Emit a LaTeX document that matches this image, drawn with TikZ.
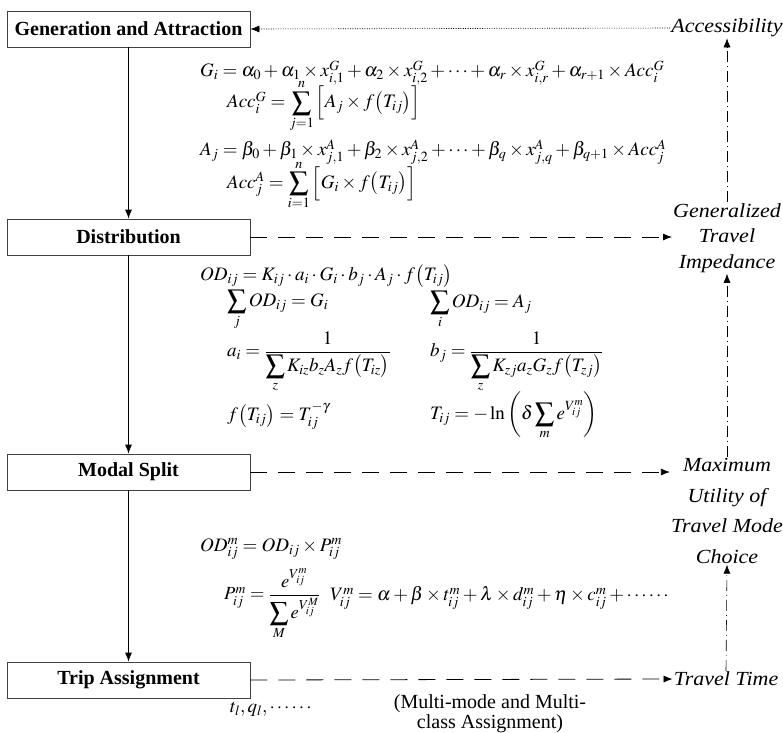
\documentclass[tikz,border=0pt]{standalone}
\usepackage{amsmath}
\usepackage{mathptmx}
\usepackage[no-math]{fontspec}
\setmainfont{Liberation Serif}
\newfontfamily\sidefont[FakeStretch=1.1]{Liberation Serif}
\usetikzlibrary{arrows.meta}
\begin{document}
\begin{tikzpicture}[x=1pt,y=-1pt,
  stagebox/.style={draw=black!75,line width=0.8pt,minimum width=243pt,minimum height=36pt,inner sep=0pt,font=\fontsize{20}{24}\selectfont\bfseries},
  sidelabel/.style={font=\sidefont\fontsize{20}{25}\selectfont\itshape,align=center,inner sep=1pt},
  eq/.style={anchor=west,inner sep=0pt,font=\fontsize{19}{23}\selectfont},
  tip/.style={-{Latex[length=9pt,width=7pt]}},
  flow/.style={tip,line width=0.8pt},
  dashflow/.style={tip,line width=0.8pt,dash pattern=on 17pt off 11pt},
  dotflow/.style={tip,line width=0.6pt,dash pattern=on 1pt off 1.4pt},
  dashdotflow/.style={tip,line width=0.6pt,dash pattern=on 11pt off 4pt on 1pt off 4pt}]
\useasboundingbox (0,0) rectangle (783,732);
% stages
\node[stagebox] (gen) at (128.5,29) {Generation and Attraction};
\node[stagebox] (dis) at (128.5,237) {Distribution};
\node[stagebox] (mod) at (128.5,472) {Modal Split};
\node[stagebox] (trip) at (128.5,680) {Trip Assignment};
% side labels
\node[sidelabel] (acc) at (727,28) {Accessibility};
\node[sidelabel,font=\sidefont\fontsize{20}{25.5}\selectfont\itshape] (imp) at (727,238) {Generalized\\Travel\\Impedance};
\node[sidelabel,font=\sidefont\fontsize{20}{30.5}\selectfont\itshape] (util) at (727,511) {Maximum\\Utility of\\Travel Mode\\Choice};
\node[sidelabel] (tt) at (726,679) {Travel Time};
% connectors
\draw[flow] (gen.south) -- (dis.north);
\draw[flow] (dis.south) -- (mod.north);
\draw[flow] (mod.south) -- (trip.north);
\draw[dotflow] (acc.west) -- (gen.east);
\draw[dashflow] (dis.east) -- (imp.west |- dis.east);
\draw[dashflow] (mod.east) -- (util.west |- mod.east);
\draw[dashflow] (trip.east) -- (tt.west);
\draw[dashdotflow] (imp.north) -- (acc.south);
\draw[dashdotflow] (util.north) -- (imp.south);
\draw[dashdotflow] (tt.north) -- (util.south);
% formulas
\node[eq] (e1) at (200,73) {$G_i=\alpha_0+\alpha_1\times x_{i,1}^G+\alpha_2\times x_{i,2}^G+\cdots+\alpha_r\times x_{i,r}^G+\alpha_{r+1}\times Acc_i^G$};
\node[eq] (e2) at (227,106) {$Acc_i^G=\displaystyle\sum_{j=1}^{n}\Big[A_j\times f\big(T_{ij}\big)\Big]$};
\node[eq] (e3) at (200,152) {$A_j=\beta_0+\beta_1\times x_{j,1}^A+\beta_2\times x_{j,2}^A+\cdots+\beta_q\times x_{j,q}^A+\beta_{q+1}\times Acc_j^A$};
\node[eq] (e4) at (227,185) {$Acc_j^A=\displaystyle\sum_{i=1}^{n}\Big[G_i\times f\big(T_{ij}\big)\Big]$};
\node[eq] (e5) at (200,276) {$OD_{ij}=K_{ij}\cdot a_i\cdot G_i\cdot b_j\cdot A_j\cdot f\big(T_{ij}\big)$};
\node[eq] (e6) at (227,310) {$\displaystyle\sum_{j}OD_{ij}=G_i$};
\node[eq] (e7) at (430,310) {$\displaystyle\sum_{i}OD_{ij}=A_j$};
\node[eq] (e8) at (227,362) {$a_i=\dfrac{1}{\displaystyle\sum_{z}K_{iz}b_zA_zf\big(T_{iz}\big)}$};
\node[eq] (e9) at (430,362) {$b_j=\dfrac{1}{\displaystyle\sum_{z}K_{zj}a_zG_zf\big(T_{zj}\big)}$};
\node[eq] (e10) at (227,416) {$f\big(T_{ij}\big)=T_{ij}^{-\gamma}$};
\node[eq] (e11) at (430,416) {$T_{ij}=-\ln\left(\delta\displaystyle\sum_{m}e^{V_{ij}^m}\right)$};
\node[eq] (e12) at (200,549) {$OD_{ij}^m=OD_{ij}\times P_{ij}^m$};
\node[eq,font=\fontsize{18.5}{22}\selectfont] (e13) at (224,604) {$P_{ij}^m=\dfrac{e^{V_{ij}^m}}{\displaystyle\sum_{M}e^{V_{ij}^M}}$};
\node[eq] (e14) at (330,598) {$V_{ij}^m=\alpha+\beta\times t_{ij}^m+\lambda\times d_{ij}^m+\eta\times c_{ij}^m+\cdots\cdots$};
\node[eq] (e15) at (230,709) {$t_l,q_l,\cdots\cdots$};
\node[inner sep=0pt,align=center,font=\fontsize{20}{20}\selectfont] (note) at (490,714) {(Multi-mode and Multi-\\class Assignment)};
\end{tikzpicture}
\end{document}
